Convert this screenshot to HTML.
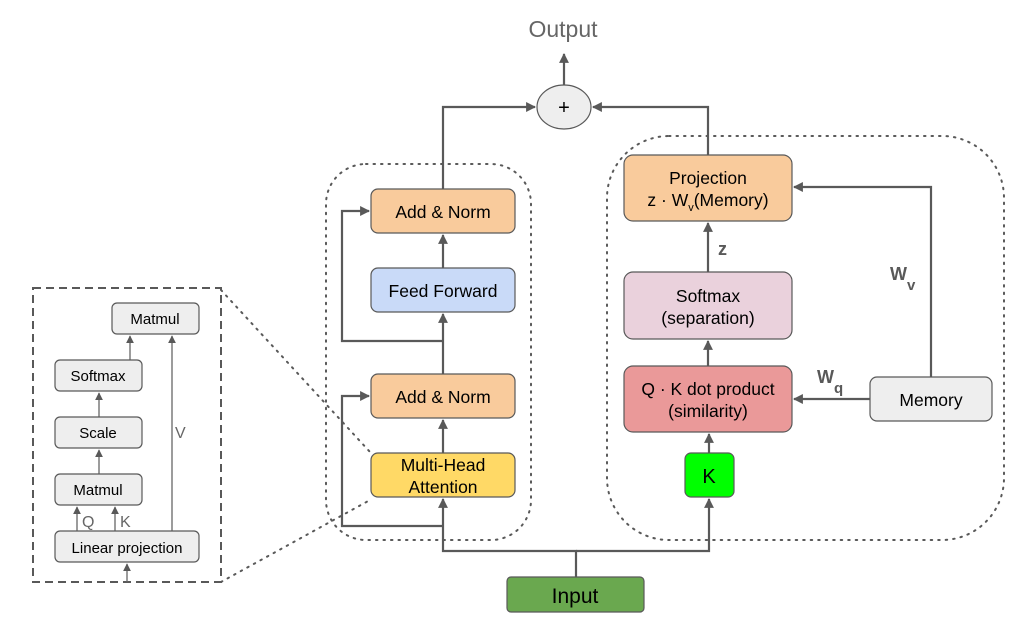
<!DOCTYPE html>
<html><head><meta charset="utf-8"><style>body{margin:0;background:#fff}svg{display:block}text{font-family:"Liberation Sans",sans-serif}</style></head><body>
<svg width="1015" height="618" viewBox="0 0 1015 618" xmlns="http://www.w3.org/2000/svg">
<defs>
<marker id="a" viewBox="0 0 10 10" refX="9" refY="5" markerWidth="4.5" markerHeight="4.5" orient="auto"><path d="M0,0L10,5L0,10z" fill="#595959"/></marker>
<marker id="s" viewBox="0 0 10 10" refX="9" refY="5" markerWidth="6" markerHeight="6" orient="auto"><path d="M0,0L10,5L0,10z" fill="#595959"/></marker>
</defs>
<g fill="none" stroke="#595959" stroke-dasharray="1.5,6" stroke-linecap="round" stroke-width="2">
<rect x="326" y="164" width="205" height="376" rx="40"/>
<rect x="607" y="136" width="397" height="404" rx="62"/>
<path d="M221,290L370,452M221,582L370,500"/>
</g>
<rect x="33" y="288" width="188" height="294" fill="none" stroke="#595959" stroke-width="2" stroke-dasharray="8,5"/>
<g stroke="#595959" stroke-width="2.2" fill="none" marker-end="url(#a)">
<path d="M576,577V551H443V499"/>
<path d="M576,551H709V499"/>
<path d="M443,526H342V396H369"/>
<path d="M443,453V420"/>
<path d="M443,374V314"/>
<path d="M443,341H342V211H369"/>
<path d="M443,268V235"/>
<path d="M443,189V107H535"/>
<path d="M708,155V107H593"/>
<path d="M564,85V54"/>
<path d="M708,272V223"/>
<path d="M708,366V341"/>
<path d="M709,453V434"/>
<path d="M870,399H794"/>
<path d="M931,377V187H794"/>
</g>
<g stroke="#666" stroke-width="1.3" fill="none" marker-end="url(#s)">
<path d="M99,505V450"/><path d="M99,448V393"/><path d="M99,391V360"/><path d="M130,360V336"/>
<path d="M77,531V507"/><path d="M115,531V507"/><path d="M172,531V336"/><path d="M127,582V564"/>
</g>
<g stroke="#595959" stroke-width="1.2">
<rect x="371" y="189" width="144" height="44" rx="7" fill="#f9cb9c"/>
<rect x="371" y="268" width="144" height="44" rx="7" fill="#c9daf8"/>
<rect x="371" y="374" width="144" height="44" rx="7" fill="#f9cb9c"/>
<rect x="371" y="453" width="144" height="44" rx="7" fill="#ffd966"/>
<rect x="507" y="577" width="137" height="35" rx="4" fill="#6aa84f"/>
<ellipse cx="564" cy="107" rx="27" ry="22" fill="#eeeeee"/>
<rect x="624" y="155" width="168" height="66" rx="9" fill="#f9cb9c"/>
<rect x="624" y="272" width="168" height="67" rx="9" fill="#ead1dc"/>
<rect x="624" y="366" width="168" height="66" rx="9" fill="#ea9999"/>
<rect x="685" y="453" width="49" height="44" rx="6" fill="#00ff00"/>
<rect x="870" y="377" width="122" height="44" rx="7" fill="#eeeeee"/>
<rect x="112" y="303" width="87" height="31" rx="5" fill="#eeeeee"/>
<rect x="55" y="360" width="87" height="31" rx="5" fill="#eeeeee"/>
<rect x="55" y="417" width="87" height="31" rx="5" fill="#eeeeee"/>
<rect x="55" y="474" width="87" height="31" rx="5" fill="#eeeeee"/>
<rect x="55" y="531" width="144" height="31" rx="5" fill="#eeeeee"/>
</g>
<g font-size="17.5" text-anchor="middle" fill="#000">
<text x="443" y="218">Add &amp; Norm</text>
<text x="443" y="297">Feed Forward</text>
<text x="443" y="403">Add &amp; Norm</text>
<text x="443" y="471">Multi-Head</text>
<text x="443" y="493">Attention</text>
<text x="575" y="603" font-size="21">Input</text>
<text x="564" y="114" font-size="20">+</text>
<text x="708" y="184">Projection</text>
<text x="708" y="206">z · W<tspan font-size="11" dy="5">v</tspan><tspan dy="-5">(Memory)</tspan></text>
<text x="708" y="302">Softmax</text>
<text x="708" y="324">(separation)</text>
<text x="708" y="395">Q · K dot product</text>
<text x="708" y="417">(similarity)</text>
<text x="709" y="483" font-size="20">K</text>
<text x="931" y="406">Memory</text>
<text x="563" y="37" font-size="23" fill="#666">Output</text>
</g>
<g font-size="15" text-anchor="middle" fill="#000">
<text x="155" y="324">Matmul</text>
<text x="98" y="381">Softmax</text>
<text x="98" y="438">Scale</text>
<text x="98" y="495">Matmul</text>
<text x="127" y="553">Linear projection</text>
</g>
<g font-size="16" fill="#666">
<text x="82" y="527">Q</text><text x="120" y="527">K</text><text x="175" y="438">V</text>
</g>
<g font-weight="bold" fill="#595959" font-size="18">
<text x="718" y="255">z</text>
<text x="890" y="280">W<tspan font-size="15" dy="10">v</tspan></text>
<text x="817" y="383">W<tspan font-size="15" dy="10">q</tspan></text>
</g>
</svg>
</body></html>
